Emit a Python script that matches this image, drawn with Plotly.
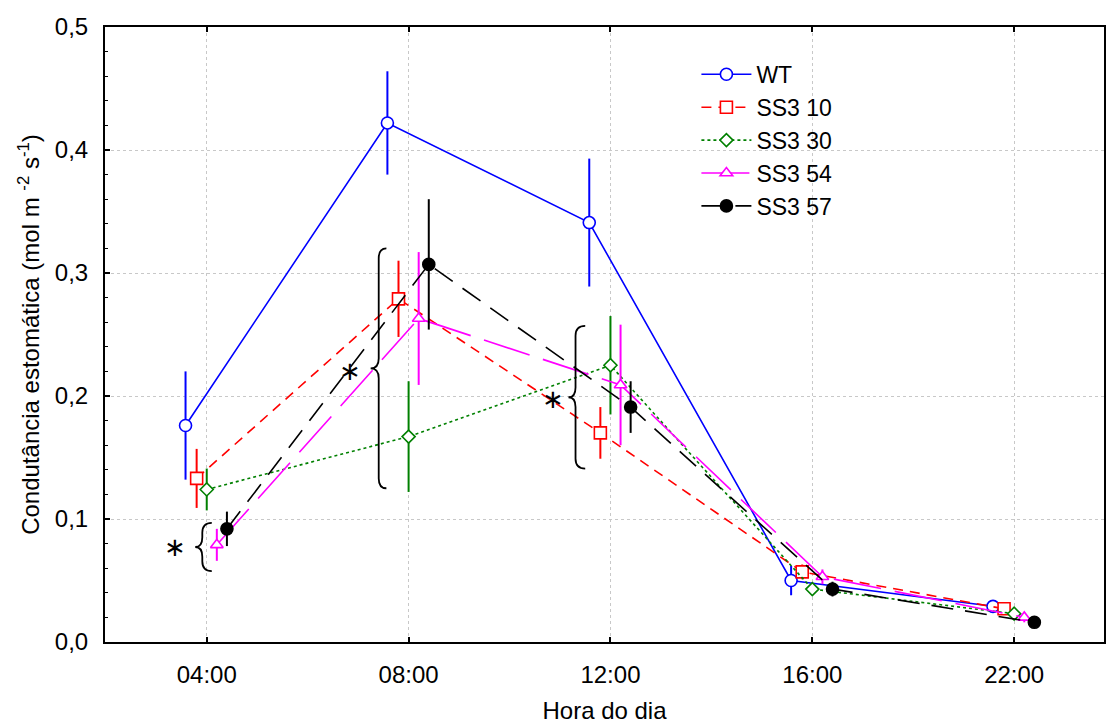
import plotly.graph_objects as go

hours = ["04:00", "08:00", "12:00", "16:00", "22:00"]
series_names = ["WT", "SS3 10", "SS3 30", "SS3 54", "SS3 57"]

wt = [0.176, 0.422, 0.341, 0.050, 0.029]
wt_err = [0.044, 0.042, 0.052, 0.012, 0.003]
ss10 = [0.133, 0.279, 0.170, 0.057, 0.027]
ss10_err = [0.024, 0.031, 0.021, 0.006, 0.004]
ss30 = [0.124, 0.167, 0.225, 0.043, 0.023]
ss30_err = [0.017, 0.045, 0.040, 0.004, 0.003]
ss54 = [0.079, 0.263, 0.209, 0.053, 0.020]
ss54_err = [0.013, 0.054, 0.049, 0.006, 0.004]
ss57 = [0.092, 0.307, 0.191, 0.043, 0.016]
ss57_err = [0.014, 0.053, 0.021, 0.006, 0.002]

offsets = [-0.105, -0.05, 0.0, 0.05, 0.1]
colors = ["#0000ff", "#ff0000", "#008000", "#ff00ff", "#000000"]
dashes = ["solid", "10px,7px", "3px,3px", "48px,14px", "22px,12px"]
symbols = ["circle", "square", "diamond", "triangle-up", "circle"]
fills = ["white", "white", "white", "white", "black"]
sizes = [12, 12, 10, 11, 12]

values = [wt, ss10, ss30, ss54, ss57]
errors = [wt_err, ss10_err, ss30_err, ss54_err, ss57_err]

fig = go.Figure()
for i, name in enumerate(series_names):
    xs = [k + offsets[i] for k in range(len(hours))]
    fig.add_trace(go.Scatter(
        x=xs, y=values[i], name=name, mode="lines+markers",
        line=dict(color=colors[i], width=1.6, dash=dashes[i]),
        marker=dict(symbol=symbols[i], size=sizes[i], color=fills[i],
                    line=dict(color=colors[i], width=1.6)),
        error_y=dict(type="data", array=errors[i], color=colors[i],
                     thickness=2, width=0),
    ))

# significance braces (x in category units, y in data units)
def brace(xr, xm, xt, yt, yb):
    ym = (yt + yb) / 2
    c = 0.008
    return (f"M {xr},{yt} Q {xm},{yt} {xm},{yt - c} "
            f"L {xm},{ym + c} Q {xm},{ym} {xt},{ym} "
            f"Q {xm},{ym} {xm},{ym - c} "
            f"L {xm},{yb + c} Q {xm},{yb} {xr},{yb}")

braces = [
    # (xr, xm, xt, ytop, ybot, star_x, star_y)
    (0.025, -0.022, -0.057, 0.0968, 0.0577, -0.158, 0.0772),
    (1.0 - 0.11, 1.0 - 0.148, 1.0 - 0.188, 0.320, 0.125, 1.0 - 0.292, 0.220),
    (2.0 - 0.125, 2.0 - 0.173, 2.0 - 0.208, 0.257, 0.141, 2.0 - 0.287, 0.1976),
]
for xr, xm, xt, yt, yb, sx, sy in braces:
    fig.add_shape(type="path", path=brace(xr, xm, xt, yt, yb),
                  xref="x", yref="y", line=dict(color="black", width=1.8))
    fig.add_annotation(x=sx, y=sy, text="\u2217", showarrow=False,
                       xref="x", yref="y",
                       font=dict(family="DejaVu Sans", size=26, color="black"))

fig.update_layout(
    width=1106, height=724,
    margin=dict(l=105, r=0, t=27, b=82),
    plot_bgcolor="white", paper_bgcolor="white",
    separators=",.",
    font=dict(family="Liberation Sans, Arial", size=24, color="black"),
    showlegend=True,
    legend=dict(x=0.592, y=0.958, xanchor="left", yanchor="top",
                bgcolor="rgba(0,0,0,0)", font=dict(size=23),
                tracegroupgap=0, itemwidth=50),
)
fig.update_xaxes(
    range=[-0.504, 4.445], tickmode="array", tickvals=list(range(len(hours))),
    ticktext=hours, showline=True, linecolor="black", linewidth=2,
    ticks="inside", ticklen=5, tickwidth=2, tickcolor="black", mirror="ticks",
    showgrid=True, gridcolor="#c8c8c8", griddash="dot", gridwidth=1,
    zeroline=False, ticklabelstandoff=10, tickfont=dict(size=24),
    title=dict(text="Hora do dia", font=dict(size=24), standoff=17),
)
fig.update_yaxes(
    range=[0, 0.5], tickmode="array", tickvals=[0, 0.1, 0.2, 0.3, 0.4, 0.5],
    tickformat=".1f", showline=True, linecolor="black", linewidth=2,
    ticks="inside", ticklen=5, tickwidth=2, tickcolor="black", mirror=True,
    showgrid=True, gridcolor="#c8c8c8", griddash="dot", gridwidth=1,
    zeroline=False, ticklabelstandoff=10, tickfont=dict(size=24),
    minor=dict(ticks="inside", ticklen=3, tickwidth=1, tickcolor="black",
               dtick=0.02, showgrid=False),
    title=dict(text="Condutância estomática (mol m <sup>-2</sup> s<sup>-1</sup>)",
               font=dict(size=24), standoff=8),
)

fig.write_html("out.html")
